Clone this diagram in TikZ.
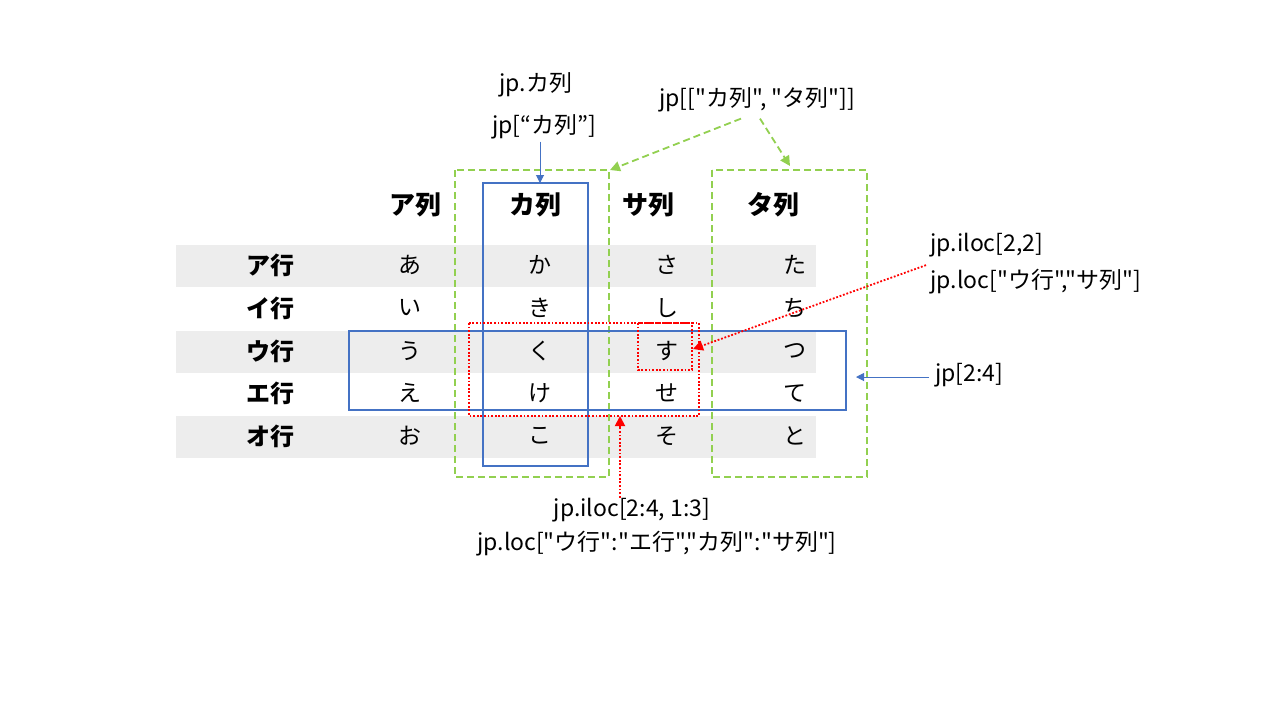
\documentclass[tikz,border=0pt]{standalone}
\usepackage{fontspec}
\setmainfont{Noto Sans CJK JP}[Ligatures=TeXOff]
\usetikzlibrary{arrows.meta}
\definecolor{boxblue}{HTML}{4472C4}
\definecolor{boxgreen}{HTML}{92D050}
\definecolor{stripe}{HTML}{EDEDED}
\tikzstyle{bluebox} = [draw=boxblue, line width=0.9pt]
\tikzstyle{greenbox} = [draw=boxgreen, line width=0.9pt, dash pattern=on 3.5pt off 2pt]
\tikzstyle{redbox} = [draw=red, line width=0.9pt, dash pattern=on 0.9pt off 0.9pt]
\tikzstyle{bluearrow} = [draw=boxblue, line width=0.5pt, -{Triangle[length=4pt,width=4pt]}]
\tikzstyle{greenarrow} = [draw=boxgreen, line width=0.9pt, dash pattern=on 3.5pt off 2pt, -{Triangle[length=5pt,width=5pt]}]
\tikzstyle{redarrow} = [draw=red, line width=0.9pt, dash pattern=on 0.9pt off 0.9pt, -{Triangle[length=5pt,width=5pt]}]
\tikzstyle{lbl} = [font=\fontsize{11.5}{13}\selectfont, inner sep=1pt]
\tikzstyle{colhead} = [font=\fontsize{13}{15}\selectfont\bfseries]
\tikzstyle{rowhead} = [font=\fontsize{12}{14}\selectfont\bfseries]
\tikzstyle{cell} = [font=\fontsize{11.5}{13}\selectfont]

\begin{document}
\begin{tikzpicture}[x=0.5pt, y=-0.5pt]
	\fill[white] (0,0) rectangle (1280,720);
	% striped rows
	\fill[stripe] (176,245) rectangle (816,287);
	\fill[stripe] (176,331) rectangle (816,373);
	\fill[stripe] (176,416) rectangle (816,458);

	% column heads
	\node [colhead] (ca) at (415,205) {ア列};
	\node [colhead] (cka) at (535,205) {カ列};
	\node [colhead] (csa) at (648,205) {サ列};
	\node [colhead] (cta) at (773,205) {タ列};

	% rows
	\node [rowhead] (ra) at (270,265) {ア行};
	\node [cell] (a) at (410,265) {あ};
	\node [cell] (ka) at (540,265) {か};
	\node [cell] (sa) at (667,265) {さ};
	\node [cell] (ta) at (795,265) {た};

	\node [rowhead] (ri) at (270,308) {イ行};
	\node [cell] (i) at (410,308) {い};
	\node [cell] (ki) at (540,308) {き};
	\node [cell] (shi) at (667,308) {し};
	\node [cell] (chi) at (795,308) {ち};

	\node [rowhead] (ru) at (270,351) {ウ行};
	\node [cell] (u) at (410,351) {う};
	\node [cell] (ku) at (540,351) {く};
	\node [cell] (su) at (667,351) {す};
	\node [cell] (tsu) at (795,351) {つ};

	\node [rowhead] (re) at (270,393) {エ行};
	\node [cell] (e) at (410,393) {え};
	\node [cell] (ke) at (540,393) {け};
	\node [cell] (se) at (667,393) {せ};
	\node [cell] (te) at (795,393) {て};

	\node [rowhead] (ro) at (270,436) {オ行};
	\node [cell] (o) at (410,436) {お};
	\node [cell] (ko) at (540,436) {こ};
	\node [cell] (so) at (667,436) {そ};
	\node [cell] (to) at (795,436) {と};

	% selections
	\draw [greenbox] (455,170) rectangle (609,477);
	\draw [greenbox] (712,170) rectangle (867,477);
	\draw [bluebox] (483,183) rectangle (588,466);
	\draw [bluebox] (349,331) rectangle (846,410);
	\draw [redbox] (469,323) rectangle (699,416);
	\draw [redbox] (638,323) rectangle (692,370);

	\coordinate (katop) at (540,183);
	\coordinate (gtop1) at (610,170);
	\coordinate (gtop2) at (790,166);
	\coordinate (sutip) at (693,349);
	\coordinate (rowtip) at (856,377);
	\coordinate (subtip) at (620,416);

	% labels
	\node [lbl] (kalbl1) at (536,85) {jp.カ列};
	\node [lbl] (kalbl2) at (544,127) {jp[“カ列”]};
	\node [lbl] (katalbl) at (757,100) {jp[["カ列", "タ列"]]};
	\node [lbl, anchor=west] (iloc1) at (928,245) {jp.iloc[2,2]};
	\node [lbl, anchor=west] (loc1) at (928,282) {jp.loc["ウ行","サ列"]};
	\node [lbl, anchor=west] (rowlbl) at (933,375) {jp[2:4]};
	\node [lbl] (iloc2) at (632,510) {jp.iloc[2:4, 1:3]};
	\node [lbl] (loc2) at (657,544) {jp.loc["ウ行":"エ行","カ列":"サ列"]};

	\draw [bluearrow] (kalbl2.south -| katop) -- (katop);
	\draw [greenarrow] ([xshift=-8pt,yshift=-2pt]katalbl.south) -- (gtop1);
	\draw [greenarrow] ([xshift=1.5pt,yshift=-2pt]katalbl.south) -- (gtop2);
	\draw [redarrow] ([xshift=-1pt,yshift=1pt]loc1.north west) -- (sutip);
	\draw [bluearrow] ([xshift=-2pt]rowlbl.west |- rowtip) -- (rowtip);
	\draw [redarrow] ([yshift=-1pt]iloc2.north -| subtip) -- (subtip);
\end{tikzpicture}
\end{document}
